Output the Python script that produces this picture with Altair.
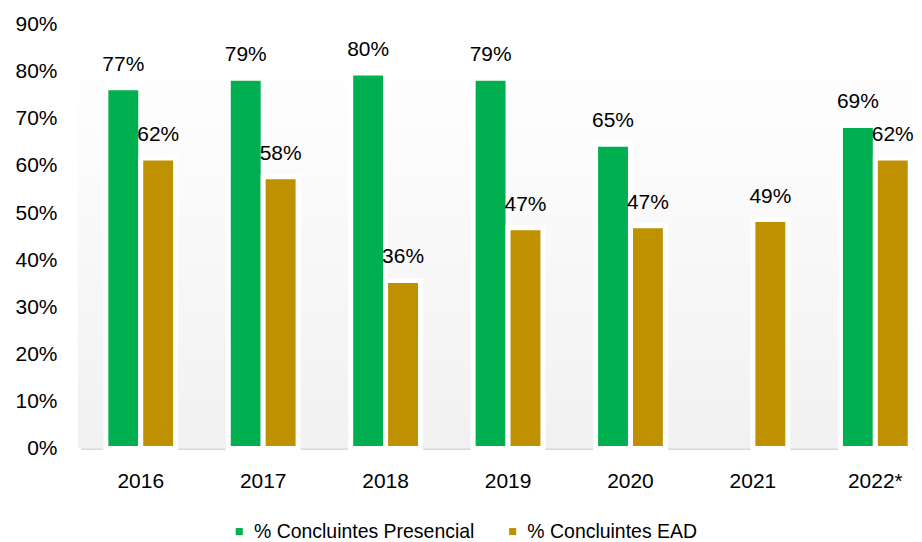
import altair as alt
import pandas as pd

years = ["2016", "2017", "2018", "2019", "2020", "2021", "2022*"]
presencial = [76.6, 78.6, 79.7, 78.6, 64.6, None, 68.6]
ead = [61.7, 57.7, 35.7, 46.9, 47.3, 48.6, 61.7]
series_names = ["% Concluintes Presencial", "% Concluintes EAD"]
colors = ["#00B050", "#BF9000"]
y_ticks = [0, 10, 20, 30, 40, 50, 60, 70, 80, 90]

rows = []
for yr, p, e in zip(years, presencial, ead):
    if p is not None:
        rows.append({"year": yr, "series": series_names[0], "value": p})
    if e is not None:
        rows.append({"year": yr, "series": series_names[1], "value": e})
df = pd.DataFrame(rows)

FONT = "Liberation Sans"
FS = 21

x_enc = alt.X(
    "year:N", sort=years,
    scale=alt.Scale(paddingInner=0.43, paddingOuter=0.1135, align=0.9),
    axis=alt.Axis(title=None, labelAngle=0, ticks=False, domainColor="#d9d9d9",
                  domainWidth=2, labelPadding=22, labelFontSize=FS, labelFont=FONT,
                  labelColor="#000000"),
)
y_enc = alt.Y(
    "value:Q", scale=alt.Scale(domain=[0, 90], nice=False),
    axis=alt.Axis(title=None, values=y_ticks, labelExpr="datum.value + '%'", grid=False,
                  ticks=False, domain=False, labelPadding=24, labelFontSize=FS,
                  labelFont=FONT, labelColor="#000000"),
)
xoff = alt.XOffset("series:N", sort=series_names, scale=alt.Scale(paddingInner=0, paddingOuter=0))

bg = alt.Chart(pd.DataFrame({"a": [0]})).mark_rect(
    color=alt.LinearGradient(
        gradient="linear",
        stops=[alt.GradientStop(color="#fefefe", offset=0),
               alt.GradientStop(color="#f1f1f1", offset=1)],
        x1=0, x2=0, y1=0, y2=1,
    )
).encode(x=alt.value(-3), x2=alt.value("width"), y=alt.value(55), y2=alt.value("height"))

base = alt.Chart(df).transform_calculate(
    label="format(datum.value, '.0f') + '%'"
)

bars = base.mark_bar(stroke="white", strokeWidth=5).encode(
    x=x_enc, y=y_enc, xOffset=xoff,
    color=alt.Color(
        "series:N", sort=series_names,
        scale=alt.Scale(domain=series_names, range=colors),
        legend=alt.Legend(title=None, orient="none", legendX=149, legendY=498,
                          direction="horizontal",
                          symbolType="square", symbolSize=50, symbolStrokeWidth=0,
                          labelFontSize=19.5, labelFont=FONT, labelColor="#000000",
                          columnPadding=28, labelLimit=0, labelOffset=5),
    ),
)

labels = base.mark_text(baseline="bottom", dy=-13, fontSize=21, font=FONT, color="#000000").encode(
    x=x_enc, y=y_enc, xOffset=xoff, text="label:N"
)

chart = alt.layer(bg, bars, labels).properties(
    width=834, height=425,
    padding={"left": 6, "top": 5, "right": 0, "bottom": 0},
).configure_view(stroke=None)

chart.save("out.html", embed_options={"renderer": "svg", "actions": False})
